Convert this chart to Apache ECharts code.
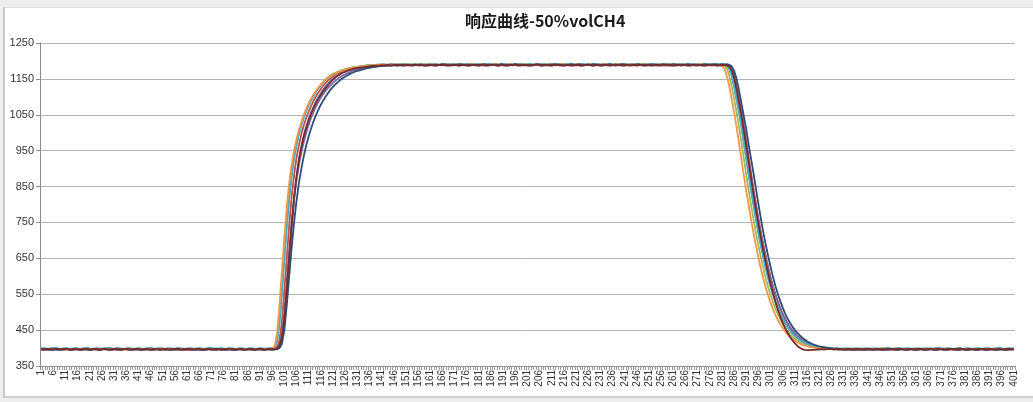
<!DOCTYPE html>
<html>
<head>
<meta charset="utf-8">
<script src="https://cdn.jsdelivr.net/npm/echarts@6/dist/echarts.min.js"></script>
<style>
html,body{margin:0;padding:0;background:#eeeeee;width:1033px;height:402px;overflow:hidden;}
#frame{position:absolute;left:3px;top:7px;width:1030px;height:388px;background:#ffffff;border-left:2px solid #c9c9c9;border-bottom:2px solid #cfcfcf;border-top:1px solid #e2e2e2;}
#chart{position:absolute;left:0;top:0;width:1033px;height:402px;}
</style>
</head>
<body>
<div id="frame"></div>
<div id="chart"></div>
<script>
const titleText = '响应曲线-50%volCH4';
const yTicks = [350, 450, 550, 650, 750, 850, 950, 1050, 1150, 1250];
const categories = Array.from({length: 401}, (_, i) => String(i + 1));
const seriesColors = ['#4F81BD', '#C0504D', '#9BBB59', '#8064A2', '#4BACC6', '#F79646', '#2C4D75', '#772C2A'];

const s1 = [
397,398,396,397,399,398,397,396,397,398,399,397,396,397,398,397,396,398,399,397,
396,397,398,397,396,397,399,398,397,396,397,398,397,396,397,398,399,397,396,397,
398,397,396,397,398,397,396,397,399,398,397,396,397,398,397,396,397,398,397,396,
397,398,399,397,396,397,398,397,396,397,398,397,399,398,397,396,397,398,397,396,
397,398,397,396,397,398,397,396,397,398,397,396,397,398,397,396,397,399,404,425,
468,555,648,735,815,877,926,963,992,1018,1038,1057,1072,1087,1099,1110,1120,1129,1137,1144,
1150,1156,1160,1164,1168,1170,1173,1175,1177,1178,1180,1181,1182,1183,1184,1185,1186,1186,1187,1188,
1188,1189,1190,1188,1189,1191,1190,1189,1188,1190,1191,1189,1190,1188,1189,1190,1191,1190,1189,1188,
1190,1189,1191,1190,1188,1189,1190,1192,1190,1189,1188,1190,1189,1191,1190,1189,1188,1189,1190,1191,
1189,1190,1188,1189,1191,1190,1189,1190,1188,1189,1190,1191,1189,1188,1190,1189,1190,1191,1189,1188,
1190,1189,1188,1190,1191,1189,1190,1188,1189,1190,1192,1190,1189,1188,1189,1190,1191,1189,1190,1188,
1189,1190,1191,1189,1188,1190,1189,1190,1191,1189,1188,1189,1190,1191,1190,1189,1188,1190,1189,1190,
1191,1189,1190,1188,1189,1190,1191,1190,1189,1188,1190,1189,1191,1190,1189,1188,1189,1190,1191,1189,
1190,1188,1189,1190,1191,1189,1190,1188,1189,1190,1191,1189,1190,1189,1188,1190,1191,1189,1190,1189,
1189,1190,1187,1178,1158,1128,1093,1058,1018,972,928,882,838,798,758,720,686,653,623,596,
571,549,529,511,495,481,469,458,449,441,434,428,423,419,415,412,409,407,405,403,
402,401,400,400,399,399,398,399,398,397,398,397,398,397,396,397,398,397,396,397,
398,397,396,397,398,397,396,397,398,399,397,396,397,398,397,396,397,398,397,396,
397,398,397,396,397,398,399,397,396,397,398,397,396,397,398,397,396,397,398,397,
396,397,398,397,396,397,398,397,399,398,397,396,397,398,397,396,397,398,397,396,
397];

const s2 = [
396,395,397,396,395,396,397,398,396,395,396,397,396,395,396,397,396,395,397,396,
395,396,397,396,395,396,398,397,396,395,396,397,396,395,397,396,395,396,397,396,
396,397,395,396,397,396,395,396,397,398,396,395,396,397,396,395,396,397,396,395,
396,395,396,397,396,395,394,395,396,397,396,395,396,397,396,395,396,397,396,395,
396,397,396,395,396,397,396,395,396,397,396,395,396,397,396,396,398,403,422,472,
562,652,742,822,882,931,966,996,1021,1041,1059,1075,1089,1101,1112,1122,1131,1139,1146,1152,
1157,1162,1166,1169,1172,1174,1176,1178,1179,1180,1181,1182,1183,1184,1185,1186,1186,1187,1188,1188,
1189,1188,1187,1189,1190,1188,1187,1189,1188,1190,1189,1187,1188,1189,1190,1188,1187,1189,1188,1187,
1188,1189,1187,1188,1190,1189,1188,1187,1189,1188,1190,1188,1187,1189,1188,1187,1188,1189,1190,1188,
1187,1188,1189,1188,1187,1189,1190,1188,1187,1188,1189,1188,1187,1189,1188,1190,1189,1187,1188,1189,
1188,1187,1189,1188,1190,1188,1187,1189,1188,1187,1188,1189,1190,1188,1187,1188,1189,1188,1187,1189,
1188,1189,1187,1188,1189,1190,1188,1187,1189,1188,1187,1188,1189,1188,1190,1189,1187,1188,1189,1188,
1187,1188,1189,1190,1188,1187,1188,1189,1188,1187,1189,1190,1188,1187,1188,1189,1188,1187,1188,1189,
1188,1190,1189,1187,1188,1189,1188,1187,1189,1188,1190,1188,1187,1188,1189,1188,1187,1189,1188,1188,
1188,1189,1189,1187,1179,1159,1129,1094,1059,1019,974,929,884,839,799,759,721,687,654,624,
596,571,549,529,511,495,481,469,458,449,441,434,428,423,419,415,412,409,407,405,
403,402,401,400,399,398,398,397,396,397,396,397,396,395,396,397,396,395,396,397,
396,395,396,397,396,395,396,397,396,395,397,396,395,396,397,396,395,396,397,396,
395,396,397,396,395,396,397,396,395,396,397,398,396,395,396,397,396,395,396,397,
396,395,396,397,396,395,396,397,396,395,396,397,396,395,396,397,396,395,396,397,
396];

const s3 = [
398,399,398,397,398,399,400,398,397,398,399,398,397,398,399,398,397,398,399,400,
398,397,398,399,398,397,398,399,400,398,397,398,399,398,397,398,399,398,397,398,
399,398,397,398,399,400,398,397,398,399,398,397,398,399,398,397,398,399,398,397,
398,399,398,397,398,399,398,397,398,400,399,398,397,398,399,398,397,398,399,398,
397,398,399,398,397,398,399,398,397,398,399,398,397,398,399,400,403,422,474,565,
655,745,825,885,935,970,1000,1025,1045,1063,1079,1092,1104,1115,1125,1134,1142,1149,1155,1160,
1164,1167,1170,1173,1175,1177,1179,1180,1182,1183,1184,1185,1186,1187,1188,1188,1189,1189,1190,1190,
1191,1190,1189,1191,1192,1190,1189,1191,1190,1192,1191,1189,1190,1191,1192,1190,1189,1191,1190,1191,
1192,1190,1191,1189,1190,1192,1191,1190,1189,1191,1192,1190,1191,1190,1189,1191,1192,1191,1190,1189,
1191,1190,1192,1191,1189,1190,1191,1192,1190,1189,1191,1190,1192,1191,1190,1189,1191,1190,1192,1191,
1190,1191,1189,1190,1192,1191,1190,1189,1191,1190,1192,1191,1190,1189,1191,1192,1190,1191,1189,1190,
1191,1192,1190,1189,1191,1190,1191,1192,1190,1189,1190,1191,1192,1190,1191,1189,1190,1191,1192,1190,
1189,1191,1190,1192,1191,1190,1189,1191,1190,1191,1192,1190,1189,1190,1191,1192,1190,1191,1189,1190,
1191,1190,1192,1191,1189,1190,1191,1190,1192,1191,1190,1189,1191,1190,1191,1192,1190,1189,1191,1190,
1190,1187,1179,1158,1128,1093,1057,1017,972,927,882,837,797,757,719,685,652,622,594,569,
547,527,509,493,479,467,456,447,439,432,426,421,417,413,410,408,406,404,403,402,
401,400,400,399,398,399,398,397,398,399,398,397,398,399,398,397,398,399,398,397,
398,399,398,397,398,399,400,398,397,398,399,398,397,398,399,398,397,398,399,398,
397,398,399,398,397,398,399,398,400,399,398,397,398,399,398,397,398,399,398,397,
398,399,398,397,398,399,398,397,398,399,398,397,398,399,400,398,397,398,399,398,
398];

const s4 = [
397,396,397,398,397,396,397,398,397,396,398,397,396,397,398,397,396,397,398,397,
396,397,398,397,396,397,398,399,397,396,397,398,397,396,397,398,397,396,397,398,
397,396,397,398,397,396,397,398,397,396,397,398,399,397,396,397,398,397,396,397,
398,397,396,397,398,397,396,397,398,397,396,397,398,397,396,397,398,399,397,396,
397,398,397,396,397,398,397,396,397,398,397,396,397,398,397,396,397,399,410,440,
500,585,670,750,815,868,910,945,975,1000,1022,1041,1058,1073,1086,1098,1108,1117,1125,1132,
1139,1145,1150,1155,1159,1163,1166,1169,1172,1174,1176,1178,1179,1181,1182,1183,1184,1185,1186,1187,
1187,1188,1189,1187,1188,1190,1188,1189,1188,1187,1189,1190,1188,1189,1188,1190,1189,1188,1187,1189,
1188,1190,1189,1188,1190,1189,1188,1187,1189,1190,1188,1189,1190,1188,1189,1188,1190,1189,1188,1189,
1190,1188,1189,1190,1189,1188,1190,1189,1188,1189,1190,1188,1189,1190,1189,1188,1189,1190,1188,1189,
1189,1190,1188,1189,1190,1189,1188,1189,1190,1191,1189,1188,1189,1190,1188,1189,1190,1189,1188,1190,
1188,1189,1190,1188,1189,1190,1189,1188,1190,1189,1188,1189,1190,1189,1188,1190,1189,1188,1189,1190,
1189,1188,1190,1189,1188,1189,1190,1188,1189,1190,1189,1188,1189,1190,1191,1189,1188,1189,1190,1189,
1190,1189,1188,1189,1190,1188,1189,1190,1189,1188,1190,1189,1188,1189,1190,1189,1188,1190,1189,1189,
1189,1190,1189,1186,1177,1156,1126,1090,1054,1014,970,926,882,838,797,757,720,686,653,623,
595,570,548,528,510,494,480,468,457,448,440,433,427,422,418,414,411,408,406,404,
403,402,401,400,399,398,397,398,397,396,397,398,397,396,397,398,397,396,397,398,
397,396,397,398,397,396,397,398,397,396,398,397,396,397,398,397,396,397,398,397,
396,397,398,397,396,397,398,397,396,397,398,399,397,396,397,398,397,396,397,398,
397,396,397,398,397,396,397,398,397,396,397,398,397,396,397,398,397,396,397,398,
397];

const s5 = [
399,400,399,398,399,400,401,399,398,399,400,399,398,399,400,399,398,399,400,401,
399,398,399,400,399,398,399,400,401,399,398,399,400,399,398,399,400,399,398,399,
400,399,398,399,400,401,399,398,399,400,399,398,399,400,399,398,399,400,399,398,
399,400,399,398,399,400,399,398,399,401,400,399,398,399,400,399,398,399,400,399,
398,399,400,399,398,399,400,399,398,399,400,399,398,399,400,399,402,418,466,552,
645,735,815,878,928,964,994,1020,1041,1060,1076,1090,1102,1113,1123,1132,1140,1147,1153,1158,
1162,1166,1169,1172,1174,1176,1178,1180,1181,1182,1183,1184,1185,1186,1187,1188,1188,1189,1189,1190,
1190,1191,1189,1190,1192,1191,1190,1189,1191,1190,1192,1191,1190,1189,1191,1190,1192,1190,1191,1189,
1190,1191,1192,1190,1189,1191,1190,1192,1191,1190,1189,1190,1191,1192,1190,1191,1189,1190,1191,1192,
1191,1190,1189,1191,1192,1190,1191,1190,1189,1191,1192,1190,1189,1191,1190,1192,1191,1190,1189,1191,
1190,1192,1191,1190,1189,1191,1190,1192,1190,1191,1189,1190,1192,1191,1190,1189,1191,1190,1192,1191,
1190,1189,1191,1192,1190,1191,1190,1189,1191,1192,1190,1191,1190,1189,1191,1190,1192,1191,1190,1189,
1191,1190,1192,1191,1190,1189,1191,1190,1192,1190,1191,1189,1190,1191,1192,1190,1191,1190,1189,1191,
1192,1190,1191,1190,1189,1191,1192,1190,1191,1190,1189,1191,1190,1192,1191,1190,1189,1191,1190,1191,
1191,1190,1187,1179,1159,1129,1094,1058,1018,973,928,883,839,799,759,721,687,654,624,596,
571,549,529,511,495,481,469,458,449,441,434,428,423,419,415,412,409,407,405,404,
403,402,401,401,400,400,399,400,399,398,399,400,399,398,399,400,399,398,399,400,
399,398,399,400,399,398,399,400,401,399,398,399,400,399,398,399,400,399,398,399,
400,399,398,399,400,399,398,399,400,401,399,398,399,400,399,398,399,400,399,398,
399,400,399,398,399,400,399,398,399,400,399,398,399,400,401,399,398,399,400,399,
399];

const s6 = [
397,398,397,396,397,398,397,396,398,397,396,397,398,397,396,397,398,397,396,397,
398,397,396,397,398,399,397,396,397,398,397,396,397,398,397,396,397,398,397,396,
397,398,397,396,397,398,397,396,397,398,399,397,396,397,398,397,396,397,398,397,
396,397,398,397,396,397,398,397,396,397,398,397,396,397,398,397,396,397,398,397,
398,397,396,397,398,397,396,397,398,397,396,397,398,397,396,398,405,440,520,615,
710,795,860,912,950,982,1008,1030,1050,1067,1082,1095,1107,1117,1126,1134,1141,1147,1153,1158,
1162,1166,1169,1172,1174,1176,1178,1180,1181,1182,1183,1184,1185,1186,1187,1187,1188,1188,1189,1189,
1189,1190,1188,1189,1190,1191,1189,1188,1190,1189,1191,1190,1188,1189,1190,1189,1191,1190,1189,1188,
1190,1189,1191,1190,1188,1189,1190,1191,1189,1190,1188,1189,1191,1190,1189,1188,1190,1191,1189,1190,
1189,1191,1190,1188,1189,1190,1189,1191,1190,1189,1188,1190,1191,1189,1190,1188,1189,1190,1191,1189,
1190,1188,1189,1191,1190,1189,1190,1188,1191,1190,1189,1190,1188,1189,1191,1190,1189,1188,1190,1189,
1191,1190,1189,1188,1190,1191,1189,1190,1188,1189,1190,1191,1190,1189,1188,1190,1189,1191,1190,1189,
1188,1190,1191,1189,1190,1188,1189,1191,1190,1189,1190,1188,1189,1190,1191,1189,1190,1188,1189,1190,
1191,1189,1190,1188,1189,1190,1191,1189,1188,1190,1189,1191,1190,1189,1188,1190,1189,1190,1188,1189,
1187,1179,1158,1128,1092,1056,1015,970,925,880,836,796,756,718,684,651,621,593,568,546,
526,508,492,478,466,455,446,438,431,425,420,416,412,409,407,405,403,402,401,400,
399,398,399,398,397,398,397,396,397,398,397,396,397,398,397,396,397,398,397,396,
397,398,397,396,397,398,399,397,396,397,398,397,396,397,398,397,396,397,398,397,
396,397,398,397,396,397,398,397,396,398,397,396,397,398,397,396,397,398,397,396,
397,398,397,396,397,398,397,396,397,398,399,397,396,397,398,397,396,397,398,397,
398];

const s7 = [
396,397,396,395,396,397,396,395,396,397,398,396,395,396,397,396,395,396,397,396,
395,396,397,396,395,396,397,396,395,396,397,396,395,396,397,398,396,395,396,397,
396,395,396,397,396,395,396,397,396,395,396,397,396,395,396,397,396,395,396,397,
396,397,396,395,396,397,396,395,396,397,398,396,395,396,397,396,395,396,397,396,
395,396,397,396,395,396,397,396,395,396,397,396,395,396,397,396,396,397,400,412,
450,520,600,680,750,810,860,900,935,965,990,1012,1032,1049,1064,1078,1090,1101,1111,1120,
1128,1135,1141,1147,1152,1156,1160,1164,1167,1170,1172,1174,1176,1178,1180,1181,1182,1183,1184,1185,
1186,1187,1186,1188,1187,1189,1188,1187,1189,1190,1188,1189,1188,1190,1189,1188,1190,1189,1188,1189,
1190,1188,1189,1190,1189,1191,1190,1189,1188,1190,1189,1190,1191,1189,1188,1190,1189,1190,1188,1189,
1189,1190,1191,1189,1190,1188,1189,1190,1189,1191,1190,1189,1188,1189,1190,1191,1189,1190,1189,1188,
1190,1189,1188,1190,1191,1189,1190,1189,1188,1190,1189,1191,1190,1189,1190,1188,1189,1190,1191,1189,
1189,1191,1190,1188,1189,1190,1189,1191,1190,1189,1188,1190,1189,1190,1191,1189,1188,1189,1190,1191,
1190,1189,1188,1190,1189,1191,1190,1189,1190,1188,1189,1191,1190,1189,1188,1190,1191,1189,1190,1189,
1191,1190,1189,1190,1188,1189,1191,1190,1189,1190,1189,1188,1190,1191,1189,1190,1189,1191,1190,1190,
1191,1190,1191,1189,1185,1172,1150,1118,1082,1045,1008,965,925,885,842,800,760,722,688,655,
625,597,572,550,530,512,496,482,470,459,450,442,435,429,424,419,415,412,409,407,
405,403,402,401,400,399,398,397,396,397,396,395,396,397,396,395,396,397,396,395,
396,397,396,395,396,397,396,395,396,397,398,396,395,396,397,396,395,396,397,396,
395,396,397,396,395,396,397,396,395,396,397,396,395,396,397,398,396,395,396,397,
396,395,396,397,396,395,396,397,396,395,396,397,396,395,396,397,396,395,396,397,
396];

const s8 = [
397,396,397,398,397,396,397,398,396,397,398,397,396,397,398,397,396,397,398,397,
396,397,398,397,396,397,398,397,396,397,398,399,397,396,397,398,397,396,397,398,
397,396,397,398,397,396,397,398,397,396,397,398,397,396,397,398,399,397,396,397,
398,397,396,397,398,397,396,397,398,397,396,397,398,397,396,397,398,397,396,397,
396,397,398,397,396,397,398,397,396,397,398,397,396,397,398,397,397,399,406,430,
478,565,655,742,820,878,925,960,990,1014,1035,1053,1069,1083,1095,1106,1116,1125,1133,1141,
1148,1154,1159,1163,1167,1170,1173,1175,1177,1179,1180,1181,1182,1183,1184,1185,1186,1186,1187,1187,
1188,1187,1189,1188,1187,1188,1189,1190,1188,1187,1188,1189,1188,1187,1189,1188,1190,1188,1187,1188,
1189,1188,1187,1188,1189,1188,1190,1189,1187,1188,1189,1188,1187,1189,1190,1188,1187,1188,1189,1188,
1187,1189,1188,1187,1188,1190,1189,1188,1187,1189,1188,1187,1188,1189,1188,1190,1187,1188,1189,1188,
1188,1187,1188,1189,1190,1188,1187,1188,1189,1188,1187,1189,1188,1190,1188,1187,1188,1189,1188,1187,
1189,1188,1187,1188,1189,1190,1188,1187,1188,1189,1188,1187,1189,1188,1187,1188,1190,1189,1188,1187,
1188,1189,1187,1188,1189,1188,1190,1188,1187,1189,1188,1187,1188,1189,1188,1187,1189,1190,1188,1187,
1188,1187,1189,1188,1190,1188,1187,1188,1189,1188,1187,1189,1188,1187,1188,1189,1190,1188,1187,1188,
1188,1189,1188,1184,1174,1152,1120,1084,1046,1004,960,915,870,826,784,744,706,671,638,607,
578,552,528,506,487,470,455,442,431,421,413,406,401,397,395,394,394,395,395,396,
396,397,396,397,398,397,396,397,398,397,396,397,398,397,396,397,398,397,396,397,
398,397,396,397,398,397,396,397,398,397,396,397,398,399,397,396,397,398,397,396,
397,398,397,396,397,398,397,396,397,398,397,396,397,398,397,396,397,398,399,397,
396,397,398,397,396,397,398,397,396,397,398,397,396,397,398,397,396,397,398,397,
397];

const allSeries = [s1, s2, s3, s4, s5, s6, s7, s8];
allSeries.forEach((s, i) => {
  if (s.length !== categories.length) throw new Error('series ' + (i + 1) + ' has ' + s.length + ' values');
});

const chart = echarts.init(document.getElementById('chart'), null, {renderer: 'canvas'});
chart.setOption({
  animation: false,
  backgroundColor: 'transparent',
  title: {
    text: titleText,
    left: 460,
    top: 8,
    textStyle: {fontSize: 16, fontWeight: 'bold', color: '#1a1a1a', fontFamily: 'Noto Sans CJK SC'}
  },
  grid: {left: 40, right: 18, top: 43, bottom: 36, containLabel: false},
  xAxis: {
    type: 'category',
    data: categories,
    boundaryGap: true,
    axisLine: {lineStyle: {color: '#8c8c8c', width: 1}},
    axisTick: {show: true, interval: 0, length: 4, lineStyle: {color: '#9a9a9a'}},
    axisLabel: {interval: 4, rotate: 90, fontSize: 10, margin: 4, color: '#333', fontFamily: 'Liberation Sans'},
    splitLine: {show: false}
  },
  yAxis: {
    type: 'value',
    min: yTicks[0],
    max: yTicks[yTicks.length - 1],
    interval: yTicks[1] - yTicks[0],
    axisLine: {show: true, lineStyle: {color: '#8c8c8c'}},
    axisTick: {show: true, length: 4, lineStyle: {color: '#8c8c8c'}},
    axisLabel: {fontSize: 11, color: '#333', margin: 6, fontFamily: 'Liberation Sans', formatter: v => String(v)},
    splitLine: {show: true, lineStyle: {color: '#b4b4b4', width: 1}}
  },
  series: allSeries.map((s, i) => ({
    type: 'line',
    data: s,
    symbol: 'none',
    smooth: false,
    lineStyle: {width: 1.8, color: seriesColors[i]},
    itemStyle: {color: seriesColors[i]}
  }))
});
</script>
</body>
</html>
